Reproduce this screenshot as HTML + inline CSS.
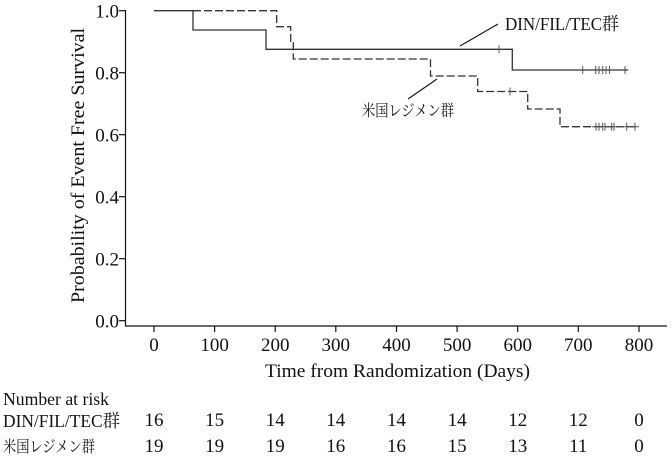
<!DOCTYPE html>
<html><head><meta charset="utf-8"><style>
html,body{margin:0;padding:0;background:#fff;}
svg{display:block;}
text{font-family:"Liberation Serif","Noto Serif CJK SC",serif;font-size:18px;fill:#111;}
.n{font-size:19px;}
</style></head><body>
<svg width="672" height="456" viewBox="0 0 672 456" xmlns="http://www.w3.org/2000/svg">
<g stroke="#111" stroke-width="1.2" fill="none">
<line x1="125.5" y1="10" x2="125.5" y2="326.5"/>
<line x1="125.5" y1="326" x2="667" y2="326"/>
<line x1="119" y1="10.7" x2="125.5" y2="10.7"/>
<line x1="119" y1="72.7" x2="125.5" y2="72.7"/>
<line x1="119" y1="134.7" x2="125.5" y2="134.7"/>
<line x1="119" y1="196.7" x2="125.5" y2="196.7"/>
<line x1="119" y1="258.7" x2="125.5" y2="258.7"/>
<line x1="119" y1="320.7" x2="125.5" y2="320.7"/>
<line x1="154" y1="326" x2="154" y2="332"/>
<line x1="214.6" y1="326" x2="214.6" y2="332"/>
<line x1="275.2" y1="326" x2="275.2" y2="332"/>
<line x1="335.8" y1="326" x2="335.8" y2="332"/>
<line x1="396.5" y1="326" x2="396.5" y2="332"/>
<line x1="457.1" y1="326" x2="457.1" y2="332"/>
<line x1="517.7" y1="326" x2="517.7" y2="332"/>
<line x1="578.3" y1="326" x2="578.3" y2="332"/>
<line x1="639" y1="326" x2="639" y2="332"/>
</g>
<g text-anchor="end" class="n">
<text class="n" x="119" y="17.5">1.0</text>
<text class="n" x="119" y="79.5">0.8</text>
<text class="n" x="119" y="141.5">0.6</text>
<text class="n" x="119" y="203.5">0.4</text>
<text class="n" x="119" y="265.5">0.2</text>
<text class="n" x="119" y="327.5">0.0</text>
</g>
<g text-anchor="middle">
<text class="n" x="154" y="351">0</text>
<text class="n" x="214.6" y="351">100</text>
<text class="n" x="275.2" y="351">200</text>
<text class="n" x="335.8" y="351">300</text>
<text class="n" x="396.5" y="351">400</text>
<text class="n" x="457.1" y="351">500</text>
<text class="n" x="517.7" y="351">600</text>
<text class="n" x="578.3" y="351">700</text>
<text class="n" x="639" y="351">800</text>
</g>
<text x="265" y="377" textLength="265" lengthAdjust="spacingAndGlyphs" style="font-size:19px">Time from Randomization (Days)</text>
<text transform="translate(84,303) rotate(-90)" x="0" y="0" textLength="275" lengthAdjust="spacingAndGlyphs" style="font-size:19px">Probability of Event Free Survival</text>

<!-- curves -->
<path d="M154,10.7 H193 V30 H266 V49.3 H512.3 V70 H628.3" stroke="#333" stroke-width="1.3" fill="none"/>
<path d="M193,10.7 H276.7 V26.7 H290.7 V42.7 H293.3 V59 H430.5 V76 H477.7 V91.5 H527.7 V109 H560 V126.7 H635" stroke="#333" stroke-width="1.3" fill="none" stroke-dasharray="8,3"/>
<g stroke="#555" stroke-width="1">
<line x1="499" y1="45.3" x2="499" y2="53.3"/>
<line x1="582.7" y1="66" x2="582.7" y2="74"/>
<line x1="595.7" y1="66" x2="595.7" y2="74"/>
<line x1="599" y1="66" x2="599" y2="74"/>
<line x1="602.7" y1="66" x2="602.7" y2="74"/>
<line x1="606" y1="66" x2="606" y2="74"/>
<line x1="609.5" y1="66" x2="609.5" y2="74"/>
<line x1="625" y1="66" x2="625" y2="74"/>
<line x1="510" y1="87.5" x2="510" y2="95.5"/>
<line x1="596" y1="122.7" x2="596" y2="130.7"/>
<line x1="599" y1="122.7" x2="599" y2="130.7"/>
<line x1="602.7" y1="122.7" x2="602.7" y2="130.7"/>
<line x1="605" y1="122.7" x2="605" y2="130.7"/>
<line x1="611.7" y1="122.7" x2="611.7" y2="130.7"/>
<line x1="614" y1="122.7" x2="614" y2="130.7"/>
<line x1="626.7" y1="122.7" x2="626.7" y2="130.7"/>
<line x1="635" y1="122.7" x2="635" y2="130.7"/>
<line x1="592" y1="126.7" x2="639" y2="126.7"/>
</g>
<!-- labels -->
<g stroke="#111" stroke-width="1.1">
<line x1="498" y1="24" x2="460" y2="46"/>
<line x1="437" y1="79" x2="408" y2="99"/>
</g>
<text x="505" y="30" textLength="114" lengthAdjust="spacingAndGlyphs">DIN/FIL/TEC群</text>
<text x="362" y="116" textLength="92" lengthAdjust="spacingAndGlyphs" style="font-size:16px">米国レジメン群</text>

<!-- risk table -->
<text x="3" y="405" textLength="106" lengthAdjust="spacingAndGlyphs">Number at risk</text>
<text x="3" y="427" textLength="117" lengthAdjust="spacingAndGlyphs">DIN/FIL/TEC群</text>
<text x="3" y="452" textLength="92" lengthAdjust="spacingAndGlyphs" style="font-size:16px">米国レジメン群</text>
<g text-anchor="middle">
<text class="n" x="154" y="426">16</text>
<text class="n" x="214.6" y="426">15</text>
<text class="n" x="275.2" y="426">14</text>
<text class="n" x="335.8" y="426">14</text>
<text class="n" x="396.5" y="426">14</text>
<text class="n" x="457.1" y="426">14</text>
<text class="n" x="517.7" y="426">12</text>
<text class="n" x="578.3" y="426">12</text>
<text class="n" x="639" y="426">0</text>
<text class="n" x="154" y="452">19</text>
<text class="n" x="214.6" y="452">19</text>
<text class="n" x="275.2" y="452">19</text>
<text class="n" x="335.8" y="452">16</text>
<text class="n" x="396.5" y="452">16</text>
<text class="n" x="457.1" y="452">15</text>
<text class="n" x="517.7" y="452">13</text>
<text class="n" x="578.3" y="452">11</text>
<text class="n" x="639" y="452">0</text>
</g>
</svg>
</body></html>
